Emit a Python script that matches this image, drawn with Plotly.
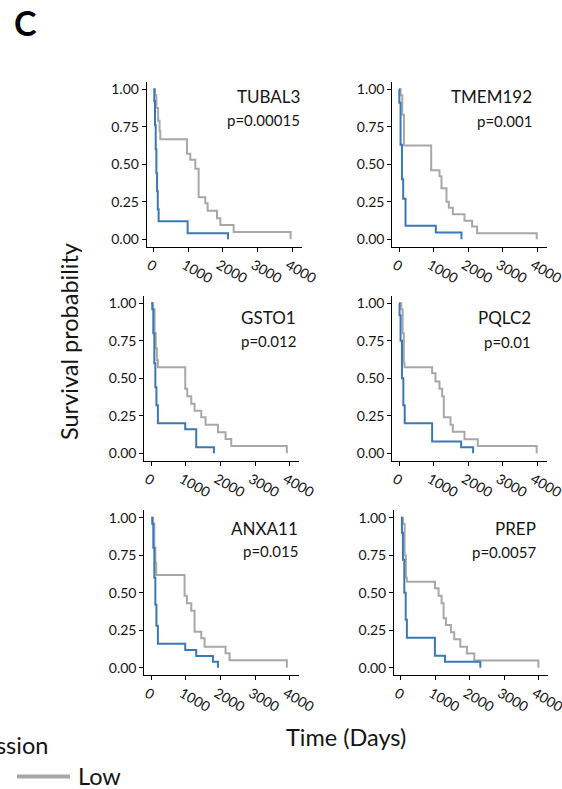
import plotly.graph_objects as go

W, H = 562, 789

genes = ["TUBAL3", "TMEM192", "GSTO1", "PQLC2", "ANXA11", "PREP"]
pvals = ["p=0.00015", "p=0.001", "p=0.012", "p=0.01", "p=0.015", "p=0.0057"]

x_ticks = [0, 1000, 2000, 3000, 4000]
x_tick_labels = ["0", "1000", "2000", "3000", "4000"]
y_ticks = [0, 0.25, 0.5, 0.75, 1.0]
y_tick_labels = ["0.00", "0.25", "0.50", "0.75", "1.00"]

# Kaplan-Meier step curves (time in days, survival probability)
TUBAL3_high_t = [0, 20, 40, 60, 80, 100, 120, 145, 983, 2150]
TUBAL3_high_s = [1, 0.92, 0.76, 0.60, 0.44, 0.32, 0.20, 0.12, 0.04, 0.0]
TUBAL3_low_t = [0, 40, 80, 130, 173, 193, 964, 1060, 1205, 1301, 1494, 1561, 1831, 1928, 2313, 3960]
TUBAL3_low_s = [1, 0.96, 0.875, 0.79, 0.72, 0.667, 0.57, 0.53, 0.47, 0.28, 0.24, 0.19, 0.14, 0.096, 0.048, 0.0]

TMEM192_high_t = [0, 5, 40, 80, 116, 184, 1063, 1807]
TMEM192_high_s = [1, 0.91, 0.63, 0.40, 0.27, 0.09, 0.045, 0.0]
TMEM192_low_t = [0, 40, 90, 140, 928, 1169, 1227, 1372, 1440, 1556, 1894, 2116, 2261, 3990]
TMEM192_low_s = [1, 0.96, 0.83, 0.625, 0.46, 0.42, 0.34, 0.25, 0.21, 0.167, 0.123, 0.085, 0.04, 0.0]

GSTO1_high_t = [0, 30, 60, 90, 120, 150, 193, 983, 1301, 1812]
GSTO1_high_s = [1, 0.96, 0.80, 0.60, 0.44, 0.32, 0.20, 0.16, 0.04, 0.0]
GSTO1_low_t = [0, 50, 96, 130, 164, 193, 983, 1041, 1157, 1253, 1446, 1571, 1928, 2149, 2313, 3920]
GSTO1_low_s = [1, 0.96, 0.80, 0.70, 0.62, 0.573, 0.43, 0.38, 0.33, 0.284, 0.24, 0.19, 0.14, 0.095, 0.048, 0.0]

PQLC2_high_t = [0, 10, 40, 80, 120, 160, 956, 1797, 2145]
PQLC2_high_s = [1, 0.92, 0.75, 0.50, 0.32, 0.20, 0.078, 0.04, 0.0]
PQLC2_low_t = [0, 60, 100, 135, 155, 956, 1053, 1169, 1246, 1295, 1488, 1556, 1894, 2280, 3990]
PQLC2_low_s = [1, 0.96, 0.80, 0.60, 0.573, 0.533, 0.478, 0.43, 0.38, 0.24, 0.19, 0.144, 0.093, 0.049, 0.0]

ANXA11_high_t = [0, 30, 60, 90, 120, 150, 193, 983, 1301, 1783, 1928]
ANXA11_high_s = [1, 0.96, 0.80, 0.60, 0.42, 0.28, 0.16, 0.118, 0.078, 0.04, 0.0]
ANXA11_low_t = [0, 50, 90, 120, 145, 964, 1031, 1157, 1253, 1446, 1542, 2149, 2265, 3920]
ANXA11_low_s = [1, 0.96, 0.80, 0.70, 0.618, 0.48, 0.43, 0.38, 0.24, 0.196, 0.14, 0.096, 0.049, 0.0]

PREP_high_t = [0, 30, 60, 100, 140, 175, 990, 1282, 2311]
PREP_high_s = [1, 0.90, 0.72, 0.50, 0.32, 0.20, 0.08, 0.04, 0.0]
PREP_low_t = [0, 60, 110, 146, 175, 990, 1097, 1184, 1243, 1311, 1456, 1553, 1728, 1922, 2136, 4000]
PREP_low_s = [1, 0.96, 0.75, 0.60, 0.573, 0.529, 0.48, 0.43, 0.33, 0.284, 0.236, 0.19, 0.14, 0.095, 0.048, 0.0]

high_t = [TUBAL3_high_t, TMEM192_high_t, GSTO1_high_t, PQLC2_high_t, ANXA11_high_t, PREP_high_t]
high_s = [TUBAL3_high_s, TMEM192_high_s, GSTO1_high_s, PQLC2_high_s, ANXA11_high_s, PREP_high_s]
low_t = [TUBAL3_low_t, TMEM192_low_t, GSTO1_low_t, PQLC2_low_t, ANXA11_low_t, PREP_low_t]
low_s = [TUBAL3_low_s, TMEM192_low_s, GSTO1_low_s, PQLC2_low_s, ANXA11_low_s, PREP_low_s]

BLUE = "#3b78b7"
GRAY = "#a8a8a8"
FONT = "Lato"
TXT = "#151515"

# panel pixel boxes: (left, right, top, bottom)
panels = [
    (146.7, 301.7, 81.8, 246.8),
    (392.3, 546.7, 81.8, 246.8),
    (144.3, 299.3, 295.8, 460.8),
    (392.3, 546.7, 295.8, 460.8),
    (144.3, 299.3, 510.2, 675.2),
    (394.0, 548.0, 510.2, 675.2),
]
# label positions (right edge x, gene y center, p y center) in pixels
label_pos = [
    (301.7, 96.0, 120.0),
    (534.3, 96.7, 120.7),
    (298.0, 317.0, 341.0),
    (533.0, 317.0, 341.7),
    (300.0, 528.0, 550.7),
    (538.0, 528.0, 551.7),
]


def px(x):
    return x / W


def py(y):
    return 1 - y / H


fig = go.Figure()
layout = dict(
    width=W, height=H, autosize=False,
    margin=dict(l=0, r=0, t=0, b=0, autoexpand=False),
    paper_bgcolor="white", plot_bgcolor="white",
    showlegend=False,
    font=dict(family=FONT, color=TXT),
)
annotations = []

for i, g in enumerate(genes):
    n = i + 1
    xa = "x" if n == 1 else f"x{n}"
    ya = "y" if n == 1 else f"y{n}"
    fig.add_trace(go.Scatter(x=low_t[i], y=low_s[i], mode="lines", line=dict(color=GRAY, width=2, shape="hv"),
                             name="Low", xaxis=xa, yaxis=ya))
    fig.add_trace(go.Scatter(x=high_t[i], y=high_s[i], mode="lines", line=dict(color=BLUE, width=2, shape="hv"),
                             name="High", xaxis=xa, yaxis=ya))
    l, r, t, b = panels[i]
    common = dict(showline=True, linecolor="black", linewidth=1, ticks="outside", ticklen=4,
                  tickwidth=1, tickcolor="black", showgrid=False, zeroline=False, automargin=False,
                  ticklabeloverflow="allow",
                  tickfont=dict(family=FONT, size=14, color=TXT))
    layout["xaxis" if n == 1 else f"xaxis{n}"] = dict(
        domain=[px(l), px(r)], range=[-200, 4280], anchor=ya,
        tickvals=x_ticks, ticktext=x_tick_labels, tickangle=30, ticklabelshift=-4, **common)
    layout["yaxis" if n == 1 else f"yaxis{n}"] = dict(
        domain=[py(b), py(t)], range=[-0.05, 1.05], anchor=xa,
        tickvals=y_ticks, ticktext=y_tick_labels, **common)
    rx, gy, pyy = label_pos[i]
    annotations.append(dict(text=g, x=px(rx), y=py(gy), xref="paper", yref="paper",
                            xanchor="right", yanchor="middle", showarrow=False,
                            font=dict(family=FONT, size=17, color=TXT)))
    annotations.append(dict(text=pvals[i], x=px(rx), y=py(pyy), xref="paper", yref="paper",
                            xanchor="right", yanchor="middle", showarrow=False,
                            font=dict(family=FONT, size=15, color=TXT)))

annotations += [
    dict(text="<b>C</b>", x=px(26), y=py(22), xref="paper", yref="paper", xanchor="center",
         yanchor="middle", showarrow=False, font=dict(family=FONT, size=34, color="black")),
    dict(text="Survival probability", x=px(69), y=py(342), xref="paper", yref="paper", textangle=-90,
         xanchor="center", yanchor="middle", showarrow=False, font=dict(family=FONT, size=23.5, color=TXT)),
    dict(text="Time (Days)", x=px(346), y=py(737), xref="paper", yref="paper",
         xanchor="center", yanchor="middle", showarrow=False, font=dict(family=FONT, size=23.5, color=TXT)),
    dict(text="Expression", x=px(50), y=py(745), xref="paper", yref="paper",
         xanchor="right", yanchor="middle", showarrow=False, font=dict(family=FONT, size=23.5, color=TXT)),
    dict(text="Low", x=px(76), y=py(776), xref="paper", yref="paper",
         xanchor="left", yanchor="middle", showarrow=False, font=dict(family=FONT, size=23.5, color=TXT)),
]
layout["annotations"] = annotations
layout["shapes"] = [dict(type="line", xref="paper", yref="paper", x0=px(17), x1=px(70), y0=py(776.5), y1=py(776.5),
                         line=dict(color=GRAY, width=4))]

fig.update_layout(**layout)
fig.write_html("out.html", config={"displayModeBar": False, "responsive": False},
               default_width="562px", default_height="789px",
               post_script="document.body.style.margin='0px';")
